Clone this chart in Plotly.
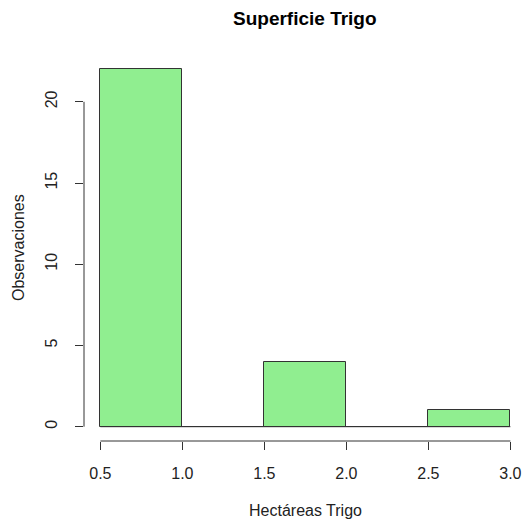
import plotly.graph_objects as go

# Data
bin_edges = [0.5, 1.0, 1.5, 2.0, 2.5, 3.0]
counts = [22, 0, 4, 0, 1]
x_ticks = [0.5, 1.0, 1.5, 2.0, 2.5, 3.0]
x_ticktext = ["0.5", "1.0", "1.5", "2.0", "2.5", "3.0"]
y_ticks = [0, 5, 10, 15, 20]
y_ticktext = ["0", "5", "10", "15", "20"]
title_text = "Superficie Trigo"
x_title = "Hectáreas Trigo"
y_title = "Observaciones"

centers = [(a + b) / 2 for a, b in zip(bin_edges[:-1], bin_edges[1:])]
widths = [b - a for a, b in zip(bin_edges[:-1], bin_edges[1:])]

FONT = "Liberation Sans, Arial, sans-serif"
TXT = "#222222"
LINE = "#333333"

fig = go.Figure()
fig.add_trace(go.Bar(
    x=centers, y=counts, width=widths,
    marker=dict(color="#90EE90", line=dict(color=LINE, width=1)),
    hoverinfo="skip", showlegend=False,
))
# zero-count bins drawn as flat rectangles along the base (as R does)
fig.add_trace(go.Scatter(
    x=[bin_edges[0], bin_edges[-1]], y=[0, 0], mode="lines",
    line=dict(color=LINE, width=1), hoverinfo="skip", showlegend=False,
))

ymax = max(counts)
xspan = bin_edges[-1] - bin_edges[0]
x_lo = bin_edges[0] - 0.04 * xspan
x_mid = bin_edges[0] + xspan / 2 + 0.0
fig.update_layout(
    width=524, height=523,
    margin=dict(l=84, r=0, t=55, b=82),
    plot_bgcolor="white", paper_bgcolor="white",
    font=dict(family=FONT, size=16, color=TXT),
    bargap=0,
    xaxis=dict(
        range=[x_lo, x_lo + 2.683],
        tickmode="array", tickvals=x_ticks, ticktext=x_ticktext,
        ticks="outside", ticklen=8, tickcolor=LINE, tickwidth=1,
        showline=False, showgrid=False, zeroline=False,
        ticklabelstandoff=10,
        tickfont=dict(size=16, color=TXT),
    ),
    yaxis=dict(
        range=[-0.04 * ymax, ymax * 1.04],
        tickmode="array", tickvals=y_ticks, ticktext=y_ticktext,
        ticks="outside", ticklen=8, tickcolor=LINE, tickwidth=1,
        tickangle=-90,
        showline=False, showgrid=False, zeroline=False,
        ticklabelstandoff=12,
        tickfont=dict(size=16, color=TXT),
    ),
    shapes=[
        dict(type="line", xref="x", yref="paper",
             x0=min(x_ticks), x1=max(x_ticks), y0=0, y1=0,
             line=dict(color=LINE, width=1)),
        dict(type="line", xref="paper", yref="y",
             x0=0, x1=0, y0=min(y_ticks), y1=max(y_ticks),
             line=dict(color=LINE, width=1)),
    ],
    annotations=[
        dict(text="<b>" + title_text + "</b>", xref="x", yref="paper",
             x=x_mid, y=1, yshift=37,
             showarrow=False, font=dict(size=19, color="#000000"),
             xanchor="center", yanchor="middle"),
        dict(text=x_title, xref="x", yref="paper",
             x=x_mid, y=0, yshift=-69,
             showarrow=False, font=dict(size=16, color=TXT),
             xanchor="center", yanchor="middle"),
        dict(text=y_title, xref="paper", yref="paper",
             x=0, y=0.5, xshift=-66, textangle=-90,
             showarrow=False, font=dict(size=16, color=TXT),
             xanchor="center", yanchor="middle"),
    ],
)

fig.write_html("out.html")
